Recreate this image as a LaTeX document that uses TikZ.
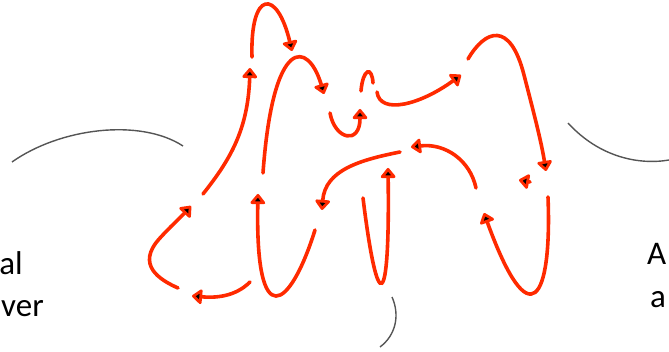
\documentclass[tikz,border=0pt]{standalone}
\usepackage{fontspec}
\setmainfont{Carlito}
\usetikzlibrary{arrows.meta}
\definecolor{flow}{HTML}{FF2A00}
\definecolor{arcgray}{HTML}{555555}
\tikzset{
  flowline/.style={draw=flow, line width=3.6pt, line cap=round},
  flowarrow/.style={flowline, -{Triangle[length=11pt,width=17pt,line width=3.4pt,fill=black,round]}},
  grayarc/.style={draw=arcgray, line width=1.4pt},
  lbl/.style={inner sep=0pt, font=\fontsize{33}{40}\selectfont}
}
\begin{document}
\begin{tikzpicture}[x=1pt,y=-1pt]
\useasboundingbox (0,0) rectangle (669,352);
% grey arcs
\draw[grayarc] (12,162) .. controls (60,128) and (140,118) .. (183,146);
\draw[grayarc] (568,123) .. controls (600,158) and (640,165) .. (669,160);
\draw[grayarc] (392,297) .. controls (400,315) and (396,335) .. (380,347);
% labels
\node[lbl, anchor=base east] (l1) at (23,275) {al};
\node[lbl, anchor=base west] (l2) at (1,317) {ver};
\node[lbl, anchor=base west] (r1) at (647,265) {A};
\node[lbl, anchor=base west] (r2) at (650,308) {a};
% red flow curves
\draw[flowarrow] (252,57) .. controls (250,-10) and (277,-12) .. (292,51);
\draw[flowarrow] (203,194) .. controls (230,160) and (248,130) .. (250,68);
\draw[flowarrow] (263,173) .. controls (273,35) and (308,40) .. (324,94);
\draw[flowarrow] (330,113) .. controls (335,140) and (360,145) .. (360,109);
\draw[flowline] (361,91) .. controls (363,68) and (372,66) .. (373,83);
\draw[flowarrow] (377,92) .. controls (380,115) and (420,105) .. (461,75);
\draw[flowarrow] (468,59) .. controls (485,30) and (510,20) .. (524,75) .. controls (533,110) and (541,140) .. (546,171);
\draw[flowarrow] (476,188) .. controls (470,160) and (445,143) .. (411,147);
\draw[flowarrow] (400,152) .. controls (360,160) and (325,170) .. (322,210);
\draw[flowarrow] (363,198) .. controls (378,320) and (390,310) .. (388,168);
\draw[flowarrow] (178,288) .. controls (160,280) and (135,265) .. (160,238) .. controls (170,227) and (180,218) .. (191,206);
\draw[flowarrow] (250,282) .. controls (235,297) and (215,298) .. (192,296);
\draw[flowarrow] (315,230) .. controls (290,310) and (255,335) .. (258,194);
\draw[flowarrow] (548,197) .. controls (552,300) and (530,340) .. (484,213);
\draw[flowarrow] (530,182) -- (519,180);
\end{tikzpicture}
\end{document}
